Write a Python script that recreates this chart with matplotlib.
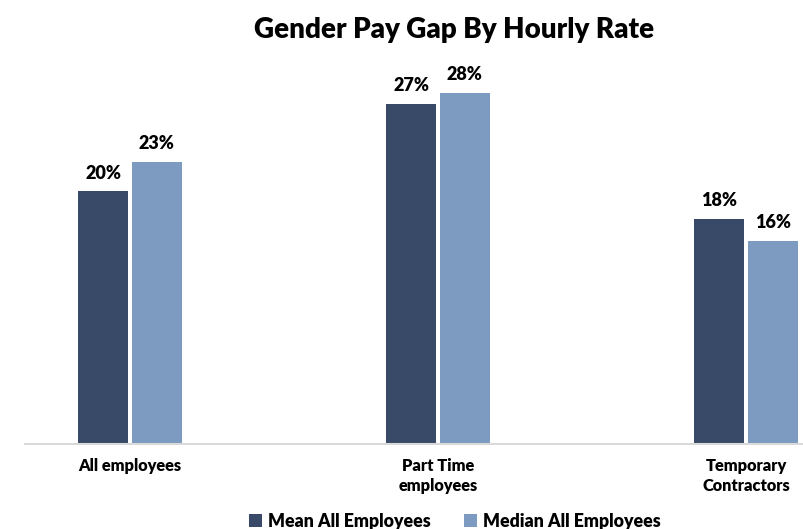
import matplotlib.pyplot as plt
import numpy as np

categories = ['All employees', 'Part Time\nemployees', 'Temporary\nContractors']
mean_vals = [20.3, 27.3, 18.1]
median_vals = [22.65, 28.2, 16.3]
series_names = ['Mean All Employees', 'Median All Employees']

dark = '#394a69'
light = '#7d9bc1'

plt.rcParams['font.family'] = ['Lato', 'DejaVu Sans']
plt.rcParams['font.weight'] = 'heavy'

fig = plt.figure(figsize=(8.04, 5.29), dpi=100)
ax = fig.add_axes([25/804, 85/529, 779/804, 373.5/529])

x = np.arange(len(categories))
w = 0.162
b1 = ax.bar(x - 0.087, mean_vals, w, color=dark, label=series_names[0])
b2 = ax.bar(x + 0.087, median_vals, w, color=light, label=series_names[1])

for bars in (b1, b2):
    for r in bars:
        h = r.get_height()
        ax.annotate(f'{h:.0f}%', (r.get_x() + r.get_width()/2, h),
                    xytext=(0, 7), textcoords='offset points',
                    ha='center', va='bottom', fontsize=13, fontweight='heavy')

ax.set_xlim(-0.341, 2.188)
ax.set_ylim(0, 30)
ax.set_yticks([])
ax.set_xticks(x)
ax.set_xticklabels(categories, fontsize=11.8, fontweight='heavy', linespacing=1.35)
ax.tick_params(axis='x', length=0, pad=10)
for s in ['top', 'right', 'left']:
    ax.spines[s].set_visible(False)
ax.spines['bottom'].set_color('#d9d9d9')
ax.spines['bottom'].set_linewidth(1.5)

fig.text(454/804, 1 - 30/529, 'Gender Pay Gap By Hourly Rate', ha='center', va='center',
         fontsize=20, fontweight='heavy')

fig.legend(loc='center', bbox_to_anchor=(455/804, 8/529), ncol=2, frameon=False,
           fontsize=12.8, handlelength=0.7, handleheight=0.7, handletextpad=0.35,
           columnspacing=1.9, borderaxespad=0)

fig.savefig('out.png', dpi=100)
